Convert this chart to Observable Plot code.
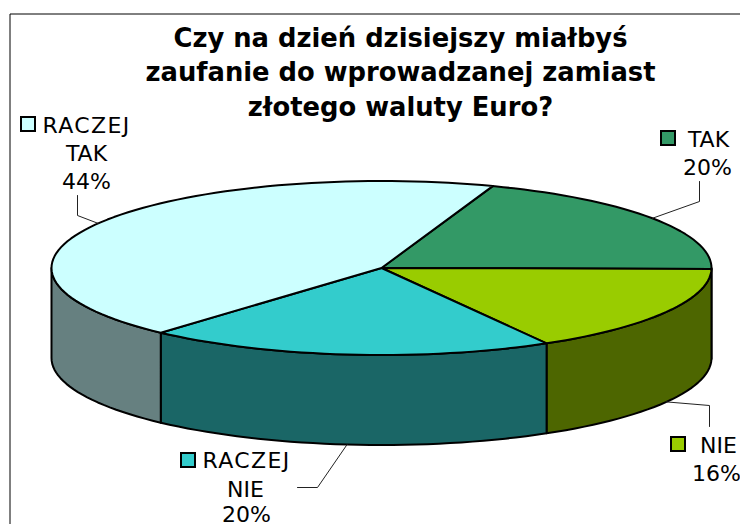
<!DOCTYPE html>
<html lang="pl">
<head>
<meta charset="utf-8">
<script src="https://cdn.jsdelivr.net/npm/d3@7"></script>
<script src="https://cdn.jsdelivr.net/npm/@observablehq/plot@0.6"></script>
<style>html,body{margin:0;padding:0;background:#fff;overflow:hidden}svg{display:block}.spaced text{letter-spacing:1.35px}</style>
</head>
<body>
<script>
const categories = ["TAK", "NIE", "RACZEJ NIE", "RACZEJ TAK"];
const values = [19.7, 16.49, 20.0, 43.81];
const topColors = ["#339966", "#99CC00", "#33CCCC", "#CCFFFF"];
const sideColors = ["#1A4D33", "#4D6600", "#1A6666", "#668080"];
const titleLines = ["Czy na dzień dzisiejszy miałbyś", "zaufanie do wprowadzanej zamiast", "złotego waluty Euro?"];

// Layout
const W = 740, H = 524;
const cx = 381, cy = 267.5, rx = 330, ry = 87, depth = 90, startAngle = 19.7;
const font = "DejaVu Sans";

const rad = a => a * Math.PI / 180;
const px = a => cx + rx * Math.sin(rad(a));
const py = (a, d = 0) => cy - ry * Math.cos(rad(a)) + d;
const arc = (a0, a1, d = 0) => {
  const n = Math.max(1, Math.ceil(Math.abs(a1 - a0) / 2));
  return d3.range(n + 1).map(i => {
    const a = a0 + (a1 - a0) * i / n;
    return {x: px(a), y: py(a, d)};
  });
};

const total = d3.sum(values);
const bounds = [startAngle];
values.forEach(v => bounds.push(bounds[bounds.length - 1] + v / total * 360));
const slices = categories.map((name, i) => ({
  name, value: values[i], a0: bounds[i], a1: bounds[i + 1],
  mid: (bounds[i] + bounds[i + 1]) / 2, top: topColors[i], side: sideColors[i]
}));

const marks = [];
const lineOpts = {x: "x", y: "y", stroke: "black", strokeWidth: 2, strokeLinejoin: "round"};

// Frame: left and top edges only
marks.push(Plot.line([{x: 9.5, y: H}, {x: 9.5, y: 13.5}, {x: W, y: 13.5}], {x: "x", y: "y", stroke: "black", strokeWidth: 1}));

// Sides (the part of each slice on the front half of the disc)
for (const s of slices) {
  const a0 = Math.max(s.a0, 90), a1 = Math.min(s.a1, 270);
  if (a1 <= a0) continue;
  const pts = [...arc(a0, a1, 0), ...arc(a1, a0, depth)];
  marks.push(Plot.line(pts, {...lineOpts, fill: s.side, curve: "linear-closed"}));
}
// Tops
for (const s of slices) {
  const pts = [{x: cx, y: cy}, ...arc(s.a0, s.a1, 0)];
  marks.push(Plot.line(pts, {...lineOpts, fill: s.top, curve: "linear-closed"}));
}

// Label layout: key box, text lines, leader bends
const labels = [
  {i: 0, key: [661, 131], d: 0, lines: [["TAK", 708, 146], ["%", 707, 174]], bends: [[699, 201], [699, 181]]},
  {i: 1, key: [671, 437], d: depth, lines: [["NIE", 718, 452], ["%", 716, 480]], bends: [[709, 405], [709, 426]]},
  {i: 2, key: [181, 453], d: depth, lines: [["RACZEJ", 246, 467], ["NIE", 245, 496], ["%", 246, 521]], bends: [[317, 487], [297, 487]]},
  {i: 3, key: [21, 117], d: 0, lines: [["RACZEJ", 86, 132], ["TAK", 86, 160], ["%", 86, 188]], bends: [[77, 215], [77, 195]]}
];

for (const l of labels) {
  const s = slices[l.i];
  const leader = [{x: px(s.mid), y: py(s.mid, l.d)}, ...l.bends.map(([x, y]) => ({x, y}))];
  marks.push(Plot.line(leader, {x: "x", y: "y", stroke: "#222", strokeWidth: 1}));
  marks.push(Plot.rect([{x1: l.key[0], x2: l.key[0] + 14, y1: l.key[1], y2: l.key[1] + 14}], {
    x1: "x1", x2: "x2", y1: "y1", y2: "y2", fill: s.top, stroke: "black", strokeWidth: 2
  }));
  const rows = l.lines.map(([t, x, y]) => ({t: t === "%" ? `${Math.round(s.value)}%` : t, x, y}));
  const textOpts = {
    x: "x", y: "y", text: "t", lineAnchor: "bottom", textAnchor: "middle",
    fontFamily: font, fontSize: 22, fill: "black"
  };
  marks.push(Plot.text(rows.filter(r => r.t !== "RACZEJ"), textOpts));
  marks.push(Plot.text(rows.filter(r => r.t === "RACZEJ"), {...textOpts, className: "spaced"}));
}

// Title
marks.push(Plot.text(titleLines.map((t, i) => ({t, y: [46, 80, 115][i]})), {
  x: () => 400, y: "y", text: "t", lineAnchor: "bottom", textAnchor: "middle",
  fontFamily: font, fontSize: 25.8, fontWeight: "bold", fill: "black"
}));

const chart = Plot.plot({
  width: W, height: H, margin: 0,
  x: {domain: [0, W], range: [0, W], axis: null},
  y: {domain: [0, H], range: [0, H], axis: null},
  marks
});
document.body.appendChild(chart);
</script>
</body>
</html>
